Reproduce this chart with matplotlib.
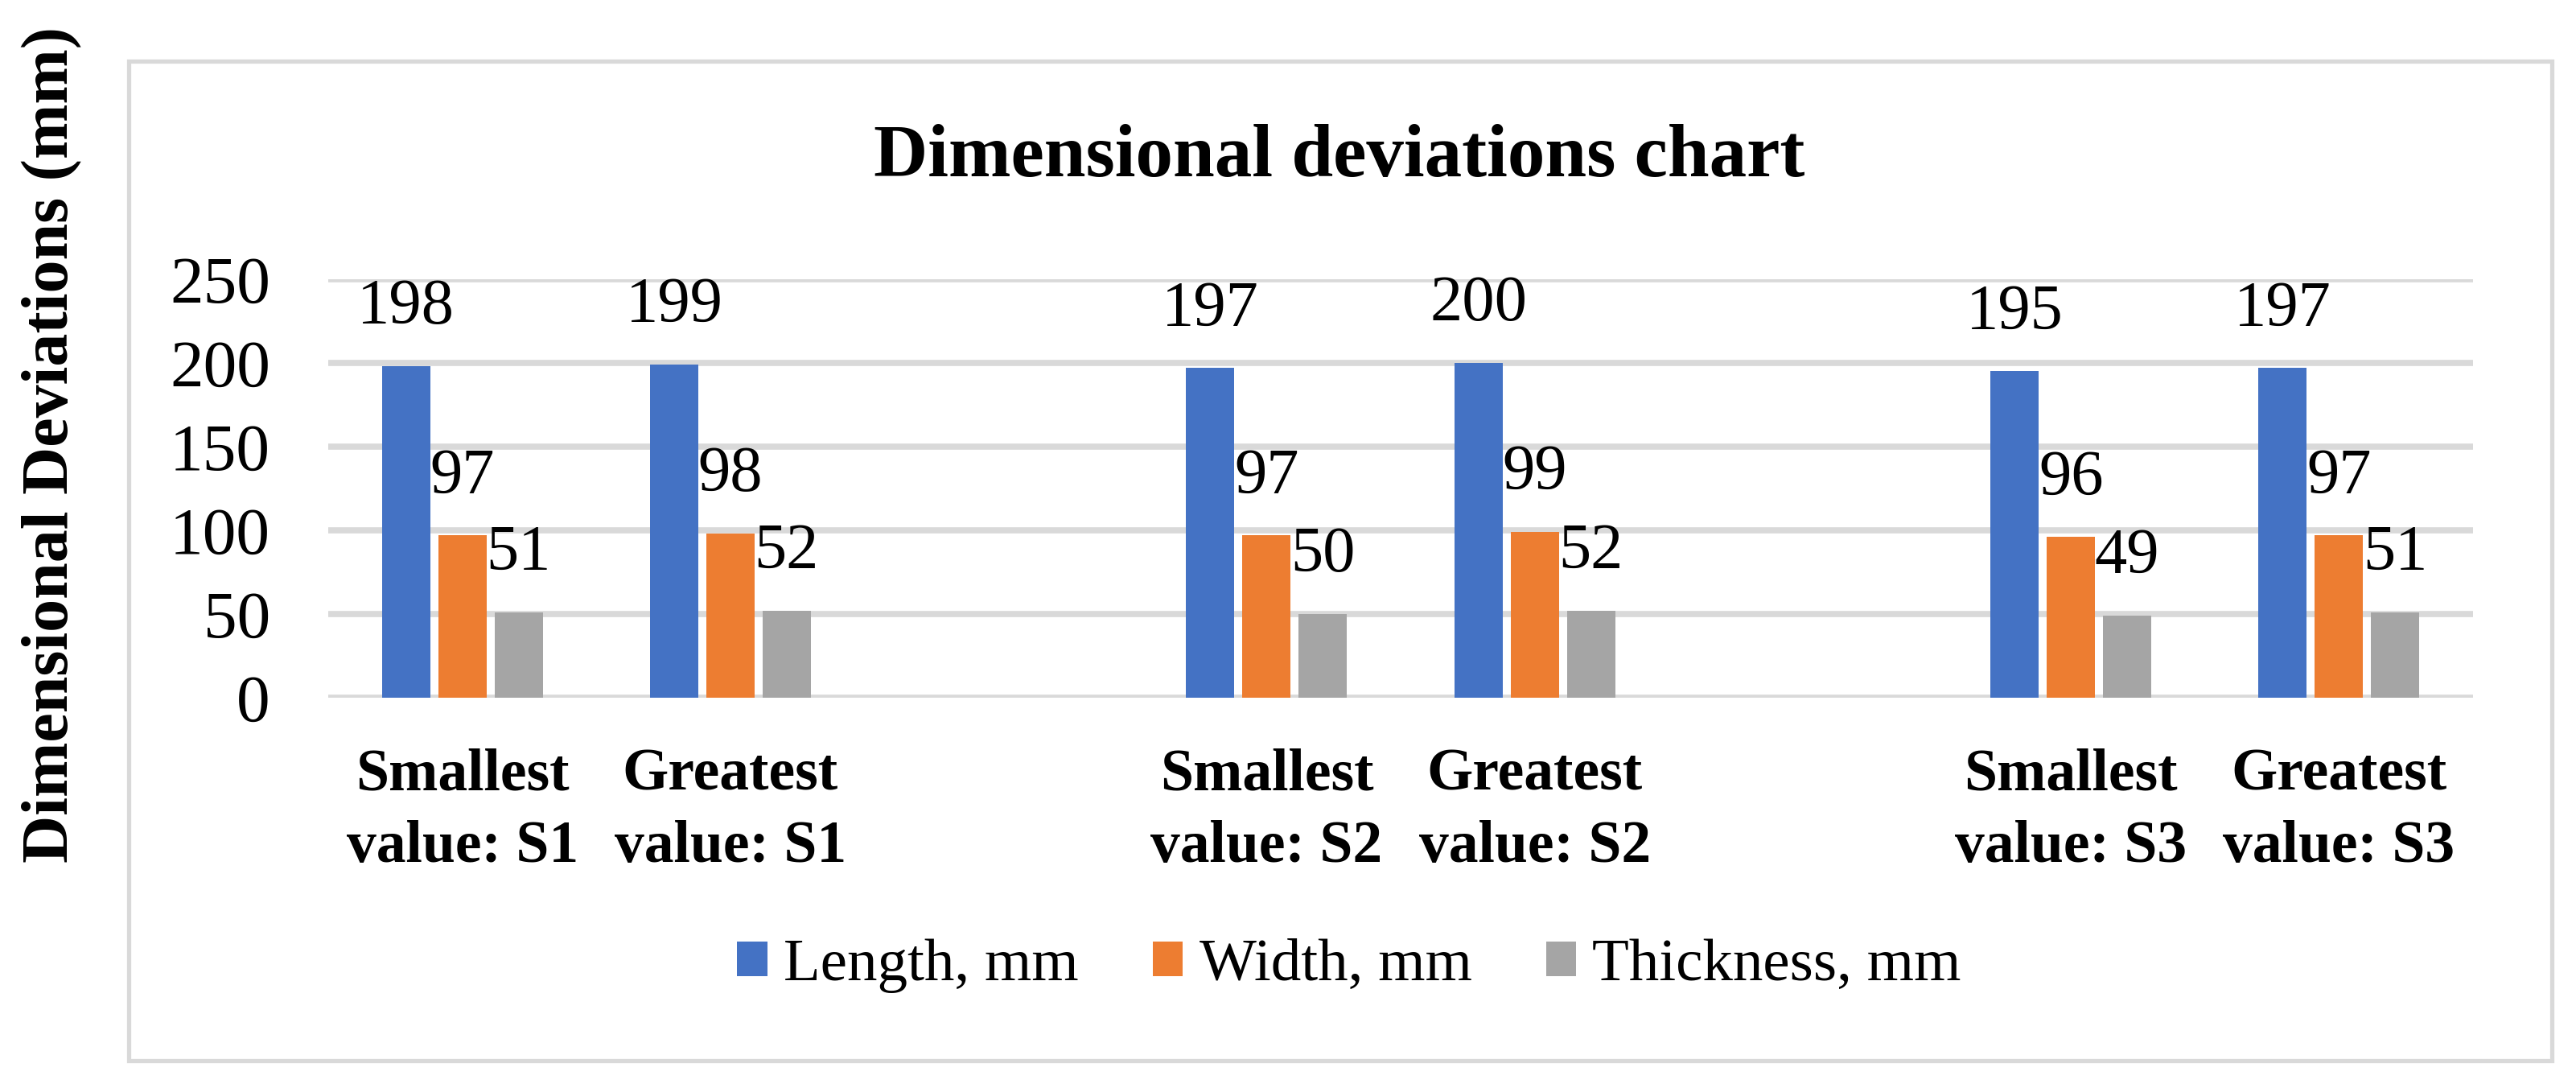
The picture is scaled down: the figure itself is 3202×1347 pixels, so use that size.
import numpy as np
import matplotlib
matplotlib.use("Agg")
import matplotlib.pyplot as plt
from matplotlib.patches import Rectangle

# categories (empty slots are the gaps between the S1 / S2 / S3 pairs)
categories = ["Smallest\nvalue: S1", "Greatest\nvalue: S1", "",
              "Smallest\nvalue: S2", "Greatest\nvalue: S2", "",
              "Smallest\nvalue: S3", "Greatest\nvalue: S3"]
length_mm = [198, 199, None, 197, 200, None, 195, 197]
width_mm = [97, 98, None, 97, 99, None, 96, 97]
thickness_mm = [51, 52, None, 50, 52, None, 49, 51]

series_names = ["Length, mm", "Width, mm", "Thickness, mm"]
series_colors = ["#4472C4", "#ED7D31", "#A5A5A5"]
yticks = [0, 50, 100, 150, 200, 250]

serif = "Liberation Serif"

W, H = 3202, 1347
fig = plt.figure(figsize=(W/100, H/100), dpi=100)
ax = fig.add_axes([408/W, (H-867)/H, (3074-408)/W, 520/H])

x = np.arange(len(categories))
bw = 0.18
offs = [-0.21, 0.0, 0.21]
allseries = [length_mm, width_mm, thickness_mm]

for k in range(3):
    vals = allseries[k]
    xs = [x[i] + offs[k] for i in range(len(vals)) if vals[i] is not None]
    vs = [v for v in vals if v is not None]
    ax.bar(xs, vs, width=bw, color=series_colors[k], label=series_names[k], zorder=3)
    for xx, vv in zip(xs, vs):
        ax.annotate(str(vv), (xx, vv), xytext=(0, 38), textcoords="offset points",
                    ha="center", va="baseline", fontsize=58, fontname=serif, zorder=4)

ax.set_xlim(-0.5, len(categories) - 0.5)
ax.set_ylim(0, 250)
ax.set_yticks(yticks)
ax.grid(axis="y", color="#D9D9D9", linewidth=5.5, zorder=0)
ax.set_axisbelow(True)
for s in ax.spines.values():
    s.set_visible(False)
ax.tick_params(axis="both", length=0)
ax.tick_params(axis="y", pad=52)
ax.set_yticklabels([str(t) for t in yticks], fontsize=60, fontname=serif)

ax.set_xticks(x)
ax.set_xticklabels(categories, fontsize=53, fontname=serif, fontweight="bold",
                   linespacing=1.42)
ax.tick_params(axis="x", pad=45)

fig.text(1665/W, 1 - 197/H, "Dimensional deviations chart", ha="center", va="center",
         fontsize=67, fontname=serif, fontweight="bold")
fig.text(65/W, 1 - 553/H, "Dimensional Deviations (mm)", rotation=90, ha="center",
         va="center", fontsize=59, fontname=serif, fontweight="bold")

fig.legend(loc="center", bbox_to_anchor=(1677/W, 1 - 1200/H), ncol=3, frameon=False,
           prop={"family": serif, "size": 54}, handlelength=0.5, handleheight=0.5,
           handletextpad=0.27, columnspacing=1.23)

fig.patches.append(Rectangle((160/W, (H-1318)/H), (3172-160)/W, (1318-76)/H,
                             transform=fig.transFigure, fill=False,
                             edgecolor="#D9D9D9", linewidth=3.8))

fig.savefig("out.png", dpi=100)
